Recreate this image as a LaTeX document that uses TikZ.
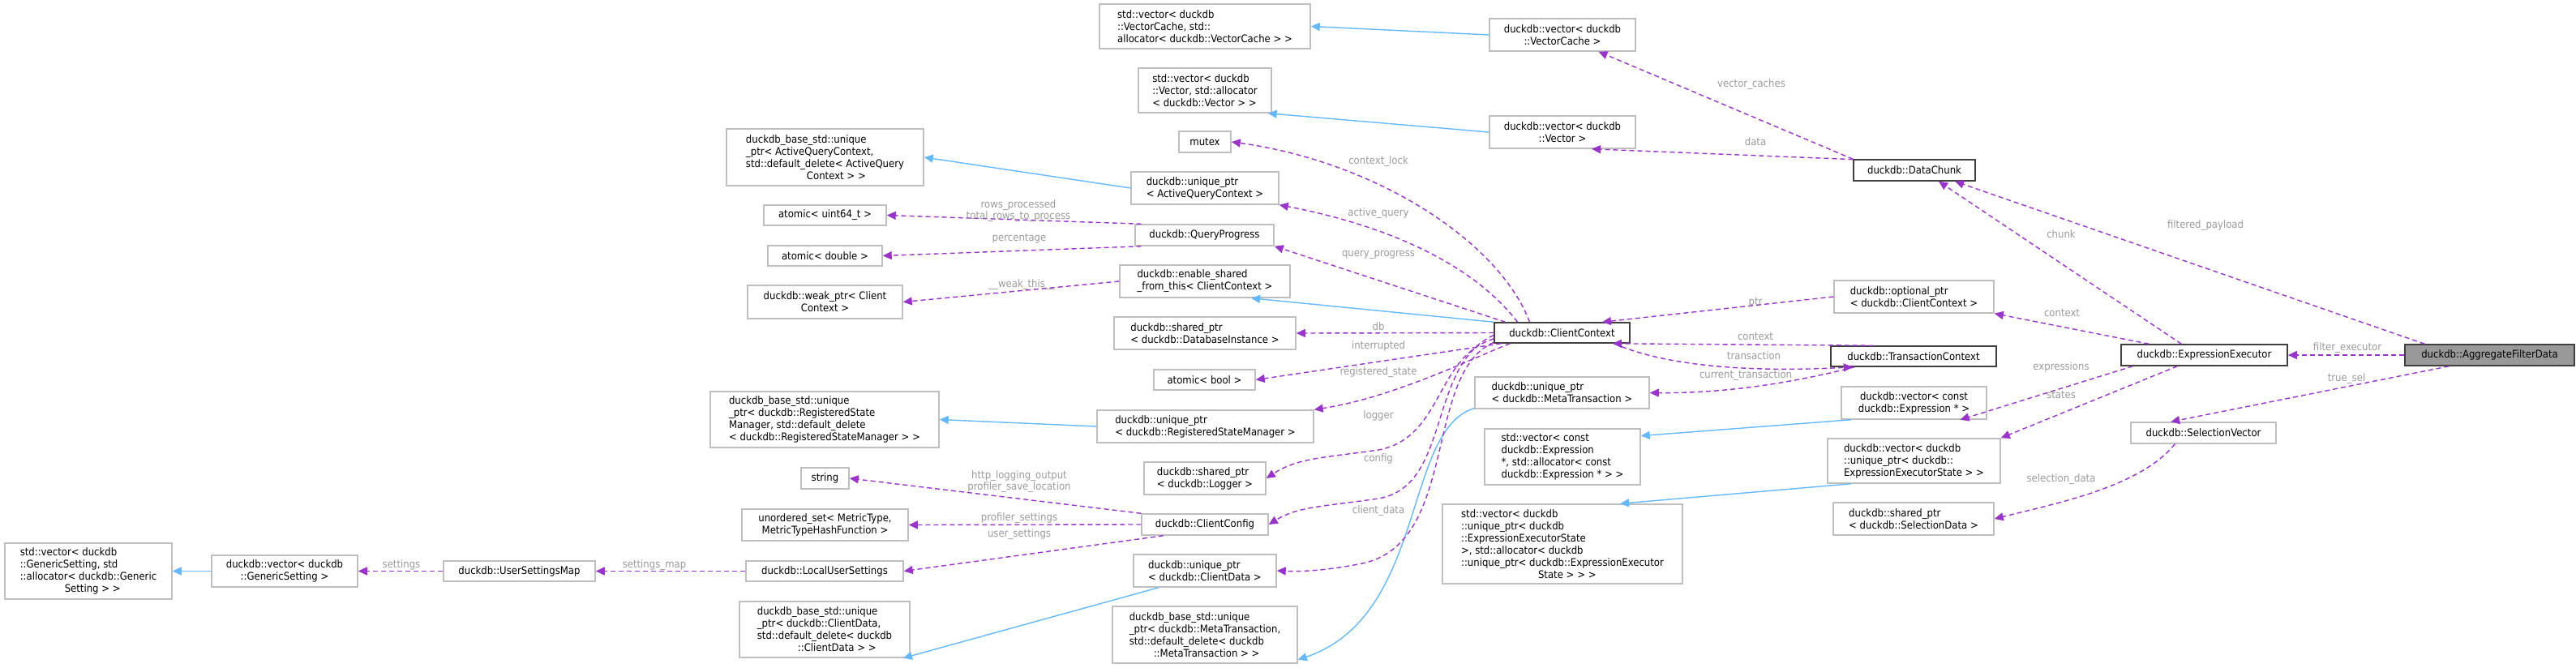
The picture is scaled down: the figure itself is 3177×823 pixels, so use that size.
\documentclass[tikz,border=0pt]{standalone}
\usepackage{fontspec}
\setmainfont{DejaVu Sans Condensed}
\usetikzlibrary{arrows.meta}
\definecolor{mem}{HTML}{9A32CD}
\definecolor{inh}{HTML}{63B8FF}
\definecolor{lbl}{HTML}{9A9A9A}
\definecolor{bl}{HTML}{BFBFBF}
\definecolor{bd}{HTML}{404040}
\newcommand\mybox[7]{\node[box,#6,minimum width={(#4-#2)*1pt},minimum height={(#5-#3)*1pt}] (#1) at ({(#2+#4)/2},{(#3+#5)/2}) {#7};}
\newcommand\lab[3]{\node[lab] at (#1,#2) {#3};}
\begin{document}
\begin{tikzpicture}[x=1pt,y=-1pt,
  box/.style={draw=bl,line width=1.5pt,fill=white,inner sep=0pt,align=center,font=\fontsize{13}{15}\selectfont},
  dk/.style={draw=bd},
  lab/.style={text=lbl,font=\fontsize{13}{14}\selectfont,inner sep=0pt,align=center},
  m/.style={draw=mem,line width=1.4pt,dash pattern=on 6pt off 4pt,-{Triangle[length=11pt,width=10pt]}},
  i/.style={draw=inh,line width=1.4pt,-{Triangle[length=11pt,width=10pt]}}]
\useasboundingbox (0,0) rectangle (3177,823);
\mybox{vcstd}{1356}{5}{1616}{60}{align=left}{std::vector< duckdb\\::VectorCache, std::\\allocator< duckdb::VectorCache > >}
\mybox{vc}{1837}{23}{2017}{63}{}{duckdb::vector< duckdb\\::VectorCache >}
\mybox{vstd}{1404}{84}{1568}{139}{align=left}{std::vector< duckdb\\::Vector, std::allocator\\< duckdb::Vector > >}
\mybox{vv}{1837}{143}{2017}{183}{}{duckdb::vector< duckdb\\::Vector >}
\mybox{dc}{2286}{197}{2436}{223}{dk}{duckdb::DataChunk}
\mybox{mutex}{1454}{162}{1518}{188}{}{mutex}
\mybox{aqcbase}{896}{159}{1139}{229}{align=left}{duckdb\_base\_std::unique\\\_ptr< ActiveQueryContext,\\ std::default\_delete< ActiveQuery\\\hspace*{75pt}Context > >}
\mybox{aqc}{1395}{212}{1577}{252}{align=left}{duckdb::unique\_ptr\\< ActiveQueryContext >}
\mybox{u64}{942}{253}{1093}{278}{}{atomic< uint64\_t >}
\mybox{dbl}{947}{303}{1088}{328}{}{atomic< double >}
\mybox{qp}{1400}{277}{1571}{303}{}{duckdb::QueryProgress}
\mybox{weak}{922}{352}{1113}{393}{}{duckdb::weak\_ptr< Client\\Context >}
\mybox{esft}{1381}{327}{1591}{367}{align=left}{duckdb::enable\_shared\\\_from\_this< ClientContext >}
\mybox{dbi}{1374}{391}{1598}{431}{align=left}{duckdb::shared\_ptr\\< duckdb::DatabaseInstance >}
\mybox{cc}{1843}{398}{2010}{423}{dk}{duckdb::ClientContext}
\mybox{ab}{1423}{456}{1548}{481}{}{atomic< bool >}
\mybox{rsmbase}{876}{483}{1158}{552}{align=left}{duckdb\_base\_std::unique\\\_ptr< duckdb::RegisteredState\\Manager, std::default\_delete\\< duckdb::RegisteredStateManager > >}
\mybox{rsm}{1353}{506}{1620}{546}{align=left}{duckdb::unique\_ptr\\< duckdb::RegisteredStateManager >}
\mybox{logger}{1411}{570}{1561}{610}{align=left}{duckdb::shared\_ptr\\< duckdb::Logger >}
\mybox{str}{988}{577}{1047}{603}{}{string}
\mybox{us}{915}{628}{1120}{667}{}{unordered\_set< MetricType,\\ MetricTypeHashFunction >}
\mybox{ccfg}{1408}{634}{1564}{660}{}{duckdb::ClientConfig}
\mybox{lus}{920}{692}{1114}{717}{}{duckdb::LocalUserSettings}
\mybox{usm}{547}{692}{734}{717}{}{duckdb::UserSettingsMap}
\mybox{gs}{261}{685}{441}{724}{}{duckdb::vector< duckdb\\::GenericSetting >}
\mybox{gsstd}{6}{670}{212}{739}{align=left}{std::vector< duckdb\\::GenericSetting, std\\::allocator< duckdb::Generic\\\hspace*{55pt}Setting > >}
\mybox{cd}{1398}{684}{1574}{724}{align=left}{duckdb::unique\_ptr\\< duckdb::ClientData >}
\mybox{cdbase}{912}{742}{1122}{811}{align=left}{duckdb\_base\_std::unique\\\_ptr< duckdb::ClientData,\\ std::default\_delete< duckdb\\\hspace*{50pt}::ClientData > >}
\mybox{mtbase}{1372}{748}{1600}{818}{align=left}{duckdb\_base\_std::unique\\\_ptr< duckdb::MetaTransaction,\\ std::default\_delete< duckdb\\\hspace*{30pt}::MetaTransaction > >}
\mybox{mt}{1819}{465}{2034}{504}{align=left}{duckdb::unique\_ptr\\< duckdb::MetaTransaction >}
\mybox{cexstd}{1831}{529}{2023}{598}{align=left}{std::vector< const\\ duckdb::Expression\\ *, std::allocator< const\\ duckdb::Expression * > >}
\mybox{eesstd}{1779}{622}{2075}{720}{align=left}{std::vector< duckdb\\::unique\_ptr< duckdb\\::ExpressionExecutorState\\ >, std::allocator< duckdb\\::unique\_ptr< duckdb::ExpressionExecutor\\\hspace*{95pt}State > > >}
\mybox{optr}{2262}{346}{2459}{386}{align=left}{duckdb::optional\_ptr\\< duckdb::ClientContext >}
\mybox{tc}{2258}{427}{2462}{452}{dk}{duckdb::TransactionContext}
\mybox{ee}{2616}{425}{2821}{451}{dk}{duckdb::ExpressionExecutor}
\mybox{afd}{2966}{425}{3175}{451}{dk,fill=black!40}{duckdb::AggregateFilterData}
\mybox{cex}{2271}{477}{2450}{517}{}{duckdb::vector< const\\ duckdb::Expression * >}
\mybox{ees}{2254}{541}{2467}{596}{align=left}{duckdb::vector< duckdb\\::unique\_ptr< duckdb::\\ExpressionExecutorState > >}
\mybox{sv}{2628}{521}{2807}{547}{}{duckdb::SelectionVector}
\mybox{sd}{2261}{620}{2459}{660}{align=left}{duckdb::shared\_ptr\\< duckdb::SelectionData >}
% inheritance
\draw[i] (vc.west) -- (vcstd.east);
\draw[i] (vv.west) -- (vstd.-20);
\draw[i] (aqc.west) -- (aqcbase.east);
\draw[i] (cc.north west) -- (esft.-20);
\draw[i] (rsm.west) -- (rsmbase.east);
\draw[i] (cd.-160) -- (cdbase.-20);
\draw[i] (mt.-170) .. controls (1730,530) and (1760,760) .. (mtbase.-15);
\draw[i] (cex.-165) -- (cexstd.15);
\draw[i] (ees.-160) -- (eesstd.35);
\draw[i] (gs.west) -- (gsstd.east);
% members
\draw[m] (dc.north west) -- (vc.-25);
\draw[m] (dc.170) -- (vv.-30);
\draw[m] ([xshift=-40pt]cc.north) .. controls (1850,300) and (1700,200) .. (mutex.east);
\draw[m] ([xshift=-55pt]cc.north) .. controls (1820,330) and (1720,280) .. (aqc.south east);
\draw[m] ([xshift=-70pt]cc.north) -- (qp.south east);
\draw[m] (qp.170) -- (u64.east);
\draw[m] (qp.190) -- (dbl.east);
\draw[m] (esft.west) -- (weak.east);
\draw[m] (cc.west) -- (dbi.east);
\draw[m] (cc.-170) -- (ab.east);
\draw[m] ([xshift=20pt]cc.south west) .. controls (1820,440) and (1720,490) .. (rsm.north east);
\draw[m] (cc.-175) .. controls (1770,440) and (1780,540) .. (1700,555) .. controls (1630,565) and (1600,565) .. (logger.east);
\draw[m] (cc.-178) .. controls (1760,450) and (1790,600) .. (1700,615) .. controls (1630,625) and (1600,625) .. (ccfg.east);
\draw[m] (cc.-172) .. controls (1755,460) and (1800,670) .. (1680,695) .. controls (1630,705) and (1600,705) .. (cd.east);
\draw[m] (ccfg.north west) -- (str.east);
\draw[m] (ccfg.west) -- (us.east);
\draw[m] (ccfg.-165) -- (lus.east);
\draw[m] (lus.west) -- (usm.east);
\draw[m] (usm.west) -- (gs.east);
\draw[m] (optr.west) -- (cc.15);
\draw[m] (tc.165) -- (cc.-12);
\draw[m] ([xshift=-20pt]cc.south east) .. controls (2050,450) and (2150,460) .. (tc.-170);
\draw[m] ([xshift=30pt]tc.south west) .. controls (2180,480) and (2100,485) .. (mt.east);
\draw[m] ([xshift=75pt]ee.north west) -- ([xshift=30pt]dc.south);
\draw[m] ([xshift=25pt]afd.north west) -- ([xshift=50pt]dc.south);
\draw[m] ([xshift=35pt]ee.north west) -- (optr.south east);
\draw[m] (afd.west) -- (ee.east);
\draw[m] ([xshift=55pt]afd.south west) -- ([xshift=50pt]sv.north west);
\draw[m] ([xshift=15pt]ee.south west) -- (cex.-20);
\draw[m] ([xshift=70pt]ee.south west) -- (ees.north east);
\draw[m] ([xshift=55pt]sv.south west) .. controls (2640,600) and (2540,620) .. (sd.east);
% labels
\lab{2160}{104}{vector\_caches}
\lab{2165}{175}{data}
\lab{1700}{199}{context\_lock}
\lab{1700}{263}{active\_query}
\lab{1700}{314}{query\_progress}
\lab{1256}{260}{rows\_processed\\total\_rows\_to\_process}
\lab{1257}{294}{percentage}
\lab{1260}{351}{\_\_weak\_this\_\_}
\lab{1700}{403}{db}
\lab{2165}{373}{ptr}
\lab{2165}{415}{context}
\lab{1700}{427}{interrupted}
\lab{1700}{459}{registered\_state}
\lab{1700}{513}{logger}
\lab{1700}{566}{config}
\lab{1700}{630}{client\_data}
\lab{1257}{594}{http\_logging\_output\\profiler\_save\_location}
\lab{1257}{639}{profiler\_settings}
\lab{1257}{659}{user\_settings}
\lab{2163}{439}{transaction}
\lab{2153}{463}{current\_transaction}
\lab{495}{697}{settings}
\lab{807}{697}{settings\_map}
\lab{2720}{278}{filtered\_payload}
\lab{2542}{289}{chunk}
\lab{2543}{386}{context}
\lab{2895}{429}{filter\_executor}
\lab{2894}{467}{true\_sel}
\lab{2542}{453}{expressions}
\lab{2542}{487}{states}
\lab{2542}{591}{selection\_data}
\end{tikzpicture}
\end{document}
